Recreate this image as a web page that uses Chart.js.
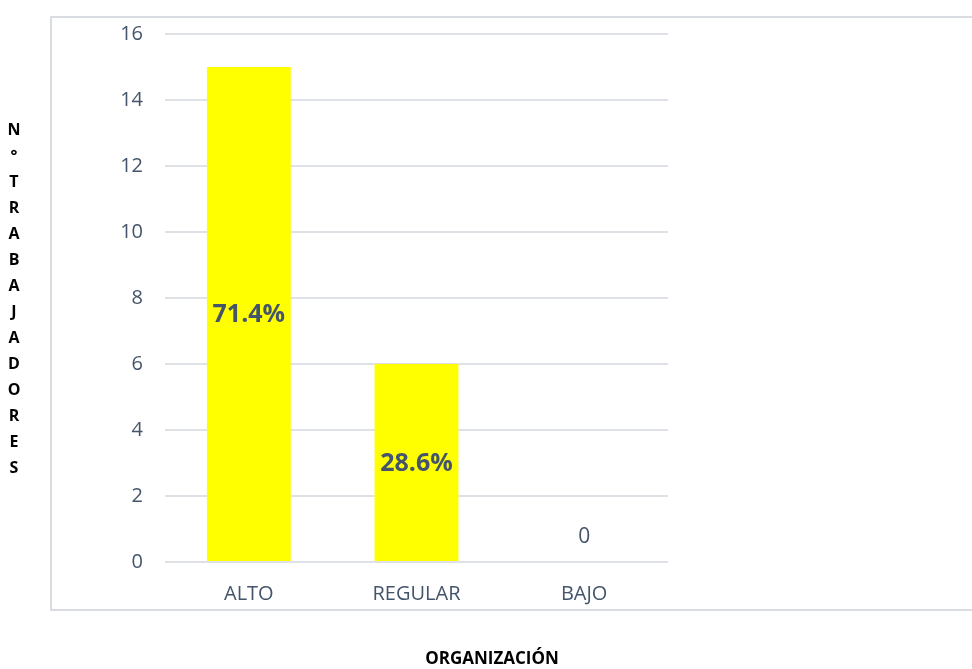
<!DOCTYPE html>
<html>
<head>
<meta charset="utf-8">
<script src="https://cdn.jsdelivr.net/npm/chart.js@4"></script>
<style>
  html, body { margin: 0; padding: 0; background: #ffffff; }
  #wrap { width: 972px; height: 669px; }
</style>
</head>
<body>
<div id="wrap"><canvas id="chart" width="972" height="669"></canvas></div>
<script>
// datos del gráfico
var categorias = ['ALTO', 'REGULAR', 'BAJO'];
var trabajadores = [15, 6, 0];
var etiquetas = ['71.4%', '28.6%', '0'];
var ejeY = { min: 0, max: 16, paso: 2 };
var tituloY = 'N°TRABAJADORES';
var tituloX = 'ORGANIZACIÓN';

var fuente = "'Open Sans', 'Noto Sans', sans-serif";
var grisTexto = '#44546A';

// marco y títulos de los ejes
var marcoPlugin = {
    id: 'marco',
    beforeDraw: function (chart) {
        var ctx = chart.ctx;
        ctx.save();
        ctx.strokeStyle = '#D9DDE2';
        ctx.lineWidth = 2;
        ctx.strokeRect(51, 17, 940, 593);
        ctx.restore();
    },
    afterDraw: function (chart) {
        var ctx = chart.ctx;
        ctx.save();
        ctx.fillStyle = '#000000';
        ctx.font = 'bold 16px ' + fuente;
        ctx.textAlign = 'center';
        ctx.textBaseline = 'middle';
        var letras = Array.from(tituloY);
        for (var i = 0; i < letras.length; i++) {
            ctx.fillText(letras[i], 14, 130 + i * 26);
        }
        ctx.font = 'bold 17px ' + fuente;
        ctx.fillText(tituloX, 492, 659);
        ctx.restore();
    }
};

// etiquetas de datos dentro de las barras
var etiquetasPlugin = {
    id: 'etiquetas',
    afterDatasetsDraw: function (chart) {
        var ctx = chart.ctx;
        var meta = chart.getDatasetMeta(0);
        ctx.save();
        ctx.textAlign = 'center';
        ctx.textBaseline = 'middle';
        meta.data.forEach(function (barra, i) {
            ctx.fillStyle = grisTexto;
            if (trabajadores[i] > 0) {
                ctx.font = 'bold 25px ' + fuente;
                ctx.fillText(etiquetas[i], barra.x, (barra.y + barra.base) / 2 + 1);
            } else {
                ctx.font = '21px ' + fuente;
                ctx.fillText(etiquetas[i], barra.x, barra.base - 25);
            }
        });
        ctx.restore();
    }
};

new Chart(document.getElementById('chart'), {
    type: 'bar',
    data: {
        labels: categorias,
        datasets: [{
            data: trabajadores,
            backgroundColor: '#FFFF00',
            borderWidth: 0,
            barPercentage: 0.5,
            categoryPercentage: 1.0
        }]
    },
    options: {
        responsive: false,
        animation: false,
        layout: {
            padding: { left: 0, right: 304, top: 31, bottom: 0 }
        },
        plugins: {
            legend: { display: false },
            tooltip: { enabled: false }
        },
        scales: {
            x: {
                grid: { display: false, drawTicks: false },
                border: { display: false },
                ticks: {
                    color: grisTexto,
                    font: { family: fuente, size: 20 },
                    padding: 20
                },
                afterFit: function (scale) { scale.height = 107; }
            },
            y: {
                min: ejeY.min,
                max: ejeY.max,
                grid: { color: '#DEE2E7', lineWidth: 2, drawTicks: false },
                border: { display: false },
                ticks: {
                    stepSize: ejeY.paso,
                    color: grisTexto,
                    font: { family: fuente, size: 20 },
                    padding: 22
                },
                afterFit: function (scale) { scale.width = 165; }
            }
        }
    },
    plugins: [marcoPlugin, etiquetasPlugin]
});
</script>
</body>
</html>
